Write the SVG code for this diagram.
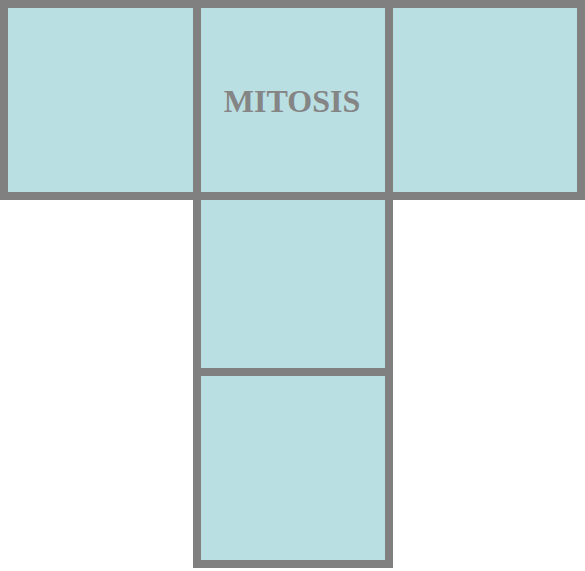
<svg xmlns="http://www.w3.org/2000/svg" width="585" height="571" viewBox="0 0 585 571">
<style>
.cell{fill:#b9dfe3;stroke:#808080;stroke-width:8}
.lbl{font-family:"Liberation Serif",serif;font-weight:bold;font-size:32px;fill:#858585;text-anchor:middle}
</style>
<rect width="585" height="571" fill="#ffffff"/>
<g id="left"><rect class="cell" x="4" y="4" width="193" height="192"/></g>
<g id="top-center"><rect class="cell" x="197" y="4" width="192" height="192"/><text class="lbl" x="292" y="112">MITOSIS</text></g>
<g id="right"><rect class="cell" x="389" y="4" width="192" height="192"/></g>
<g id="middle"><rect class="cell" x="197" y="196" width="192" height="176"/></g>
<g id="bottom"><rect class="cell" x="197" y="372" width="192" height="192"/></g>
<g id="connectors"></g>
</svg>
